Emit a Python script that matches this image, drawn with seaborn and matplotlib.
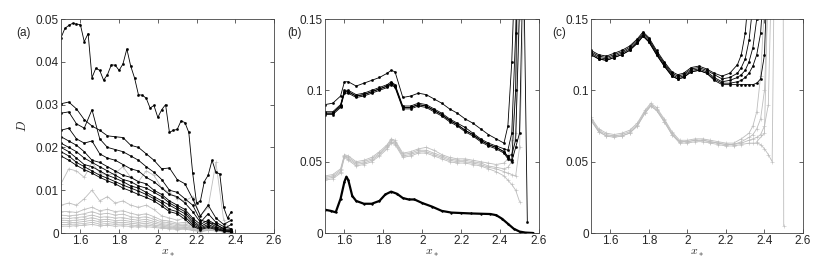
import numpy as np
import pandas as pd
import matplotlib
matplotlib.use("Agg")
import matplotlib.pyplot as plt
import seaborn as sns

sns.set_style("ticks")
plt.rcParams["font.family"] = ["Liberation Sans", "DejaVu Sans"]
plt.rcParams["mathtext.fontset"] = "cm"

BLACK = "#000000"
GRAY = "#bdbdbd"

# ---------------- panel (a) : D vs x*, values in units of 1e-3 ----------------
XA_TOP = [1.50, 1.52, 1.54, 1.56, 1.58, 1.60, 1.62, 1.64, 1.66, 1.68,
          1.70, 1.72, 1.74, 1.76, 1.78, 1.80, 1.82, 1.84, 1.86, 1.88,
          1.90, 1.92, 1.94, 1.96, 1.98, 2.00, 2.02, 2.04, 2.06, 2.08,
          2.10, 2.12, 2.14, 2.16, 2.18, 2.20, 2.22, 2.24, 2.26, 2.28,
          2.30, 2.32, 2.34, 2.36, 2.38]
A_TOP = [45.6, 47.8, 48.5, 49.0, 48.8, 48.7, 44.7, 46.6, 36.3, 38.5,
         38.0, 35.7, 37.0, 39.3, 39.2, 38.0, 39.5, 43.0, 39.0, 36.2,
         32.3, 32.2, 31.5, 29.2, 29.8, 27.0, 28.8, 30.0, 23.5, 24.0,
         24.2, 26.2, 25.8, 23.5, 14.0, 7.0, 7.5, 12.0, 13.5, 17.0,
         14.2, 13.8, 6.0, 3.5, 5.0]

XA = [1.50, 1.54, 1.58, 1.62, 1.66, 1.70, 1.74, 1.78, 1.82, 1.86, 1.90, 1.94,
      1.98, 2.02, 2.06, 2.10, 2.14, 2.18, 2.22, 2.26, 2.30, 2.34, 2.38]
A_BLACK = [
    [30.2, 30.6, 29.0, 26.5, 25.0, 24.0, 22.7, 22.5, 22.3, 20.5, 20.0, 18.5, 17.0, 15.0, 15.2, 12.5, 11.5, 8.0, 4.0, 6.5, 3.5, 2.0, 3.0],
    [28.0, 28.3, 25.5, 24.5, 28.8, 22.0, 20.0, 19.5, 19.0, 18.0, 17.0, 15.5, 14.2, 12.5, 10.0, 9.5, 8.0, 6.5, 3.0, 2.5, 2.0, 1.0, 2.0],
    [24.0, 24.5, 22.0, 21.0, 21.5, 18.5, 17.5, 17.0, 16.0, 15.0, 14.5, 13.0, 12.0, 10.5, 9.0, 8.5, 7.0, 5.0, 2.5, 4.5, 2.5, 1.5, 1.0],
    [22.5, 21.5, 20.5, 19.0, 17.0, 16.5, 15.5, 14.5, 13.5, 13.0, 12.0, 11.5, 10.0, 9.0, 7.5, 6.5, 5.5, 3.5, 2.0, 3.0, 2.0, 1.0, 0.8],
    [21.0, 20.0, 19.0, 17.5, 16.5, 15.5, 14.5, 13.5, 12.5, 12.0, 11.0, 10.5, 9.5, 8.5, 7.0, 6.0, 5.0, 3.0, 1.5, 2.5, 1.5, 0.8, 0.5],
    [20.0, 19.0, 17.5, 16.0, 15.5, 14.5, 13.5, 12.8, 12.0, 11.0, 10.5, 9.5, 8.5, 7.5, 6.5, 5.5, 4.5, 2.5, 1.2, 2.0, 1.2, 0.6, 0.4],
    [19.0, 18.0, 16.5, 15.5, 14.5, 13.5, 12.8, 12.0, 11.2, 10.5, 9.8, 9.0, 8.0, 7.0, 5.5, 5.0, 3.8, 2.0, 1.0, 1.6, 1.0, 0.5, 0.3],
    [18.0, 17.0, 15.8, 14.8, 14.0, 13.0, 12.2, 11.5, 10.5, 9.8, 9.0, 8.3, 7.5, 6.3, 5.0, 4.5, 3.2, 1.6, 0.8, 1.3, 0.8, 0.4, 0.2],
]
A_GRAY = [
    [11.5, 15.0, 14.5, 13.0, 16.5, 14.0, 13.5, 14.0, 15.5, 13.0, 12.0, 14.5, 13.5, 10.5, 9.5, 8.0, 7.5, 8.5, 4.0, 6.0, 16.5, 3.0, 0.5],
    [6.5, 7.0, 6.5, 8.0, 10.0, 7.5, 8.5, 7.0, 7.5, 6.5, 6.0, 6.5, 5.5, 4.0, 3.5, 3.0, 3.5, 2.5, 1.5, 2.5, 2.0, 1.0, 0.5],
    [5.0, 5.0, 4.8, 5.5, 6.0, 5.2, 5.5, 5.0, 5.2, 4.6, 4.2, 4.5, 3.8, 3.0, 2.8, 2.3, 2.5, 1.8, 1.0, 1.8, 1.5, 0.8, 0.4],
    [4.2, 4.0, 4.2, 4.5, 5.0, 4.4, 4.6, 4.2, 4.4, 3.8, 3.6, 3.8, 3.2, 2.6, 2.4, 2.0, 2.1, 1.5, 0.9, 1.5, 1.2, 0.6, 0.3],
    [3.5, 3.4, 3.6, 3.8, 4.2, 3.7, 3.8, 3.5, 3.6, 3.2, 3.0, 3.2, 2.7, 2.2, 2.0, 1.7, 1.8, 1.3, 0.8, 1.3, 1.0, 0.5, 0.3],
    [3.0, 2.9, 3.0, 3.2, 3.6, 3.1, 3.2, 2.9, 3.0, 2.7, 2.5, 2.7, 2.3, 1.9, 1.7, 1.4, 1.5, 1.1, 0.6, 1.1, 0.9, 0.4, 0.2],
    [2.5, 2.4, 2.5, 2.7, 3.0, 2.6, 2.7, 2.4, 2.5, 2.3, 2.1, 2.3, 1.9, 1.6, 1.4, 1.2, 1.3, 0.9, 0.5, 0.9, 0.7, 0.3, 0.2],
    [2.0, 2.0, 2.1, 2.2, 2.5, 2.1, 2.2, 2.0, 2.1, 1.9, 1.7, 1.9, 1.6, 1.3, 1.2, 1.0, 1.1, 0.7, 0.4, 0.7, 0.6, 0.3, 0.1],
    [1.6, 1.6, 1.7, 1.8, 2.0, 1.7, 1.8, 1.6, 1.7, 1.5, 1.4, 1.5, 1.3, 1.1, 1.0, 0.8, 0.9, 0.6, 0.3, 0.6, 0.5, 0.2, 0.1],
]

# ---------------- panel (b) ----------------
XB = [1.50, 1.54, 1.58, 1.60, 1.62, 1.66, 1.70, 1.74, 1.78, 1.82,
      1.84, 1.86, 1.90, 1.94, 1.98, 2.02, 2.06, 2.10, 2.14, 2.18,
      2.22, 2.26, 2.30, 2.34, 2.38, 2.42, 2.44, 2.46, 2.48, 2.50,
      2.52, 2.54]
B_BLACK = [
    [0.090, 0.091, 0.096, 0.106, 0.106, 0.103, 0.105, 0.107, 0.109, 0.112, 0.114, 0.113, 0.095, 0.096, 0.098, 0.097, 0.094, 0.091, 0.087, 0.084, 0.080, 0.077, 0.073, 0.069, 0.066, 0.063, 0.075, 0.120, 0.200, 0.300, 0.300, 0.300],
    [0.085, 0.085, 0.090, 0.100, 0.100, 0.097, 0.098, 0.100, 0.102, 0.104, 0.106, 0.104, 0.089, 0.089, 0.091, 0.090, 0.087, 0.084, 0.080, 0.077, 0.074, 0.070, 0.066, 0.063, 0.061, 0.059, 0.058, 0.070, 0.140, 0.250, 0.300, 0.300],
    [0.084, 0.084, 0.089, 0.099, 0.099, 0.096, 0.097, 0.099, 0.101, 0.103, 0.105, 0.103, 0.088, 0.088, 0.090, 0.089, 0.086, 0.083, 0.079, 0.076, 0.072, 0.069, 0.065, 0.062, 0.060, 0.057, 0.054, 0.055, 0.065, 0.160, 0.300, 0.300],
    [0.083, 0.083, 0.088, 0.098, 0.098, 0.095, 0.096, 0.098, 0.100, 0.102, 0.104, 0.102, 0.087, 0.087, 0.089, 0.088, 0.085, 0.082, 0.078, 0.075, 0.071, 0.068, 0.064, 0.061, 0.059, 0.056, 0.052, 0.050, 0.060, 0.070, 0.200, 0.008],
    [0.084, 0.084, 0.089, 0.099, 0.099, 0.096, 0.097, 0.099, 0.101, 0.103, 0.105, 0.103, 0.088, 0.088, 0.090, 0.089, 0.086, 0.083, 0.079, 0.076, 0.072, 0.069, 0.065, 0.062, 0.060, 0.057, 0.053, 0.051, 0.100, 0.300, 0.300, 0.300],
]
B_GRAY = [
    [0.040, 0.041, 0.045, 0.055, 0.054, 0.050, 0.051, 0.053, 0.057, 0.062, 0.066, 0.065, 0.056, 0.057, 0.059, 0.060, 0.058, 0.055, 0.053, 0.052, 0.052, 0.051, 0.050, 0.049, 0.048, 0.049, 0.052, 0.065, 0.100, 0.200, 0.300, 0.300],
    [0.039, 0.040, 0.044, 0.054, 0.053, 0.049, 0.050, 0.052, 0.056, 0.061, 0.065, 0.064, 0.055, 0.056, 0.058, 0.058, 0.056, 0.054, 0.052, 0.051, 0.051, 0.050, 0.049, 0.047, 0.046, 0.045, 0.046, 0.050, 0.070, 0.150, 0.300, 0.300],
    [0.038, 0.039, 0.043, 0.054, 0.052, 0.048, 0.049, 0.051, 0.055, 0.060, 0.064, 0.063, 0.054, 0.055, 0.057, 0.057, 0.055, 0.053, 0.051, 0.050, 0.050, 0.049, 0.048, 0.046, 0.045, 0.043, 0.042, 0.041, 0.040, 0.060, 0.150, 0.300],
    [0.037, 0.038, 0.042, 0.053, 0.051, 0.047, 0.048, 0.050, 0.054, 0.059, 0.063, 0.062, 0.053, 0.054, 0.056, 0.056, 0.054, 0.052, 0.050, 0.049, 0.049, 0.048, 0.047, 0.045, 0.043, 0.040, 0.037, 0.034, 0.030, 0.022],
]
XB_LOW = [1.50, 1.53, 1.555, 1.58, 1.60, 1.61, 1.62, 1.64, 1.66, 1.70,
          1.74, 1.78, 1.81, 1.84, 1.87, 1.90, 1.93, 1.96, 2.00, 2.05,
          2.10, 2.15, 2.20, 2.25, 2.30, 2.35, 2.38, 2.41, 2.44, 2.47,
          2.50, 2.53, 2.57]
B_LOW = [0.0163, 0.0155, 0.0145, 0.024, 0.036, 0.0395, 0.037, 0.026, 0.0225, 0.0205,
         0.0205, 0.0225, 0.027, 0.029, 0.0275, 0.0245, 0.0235, 0.0235, 0.021, 0.0185,
         0.0155, 0.0143, 0.014, 0.0137, 0.0135, 0.0133, 0.0125, 0.010, 0.0065, 0.003,
         0.001, 0.0003, 0.0]

# ---------------- panel (c) ----------------
XC = [1.50, 1.54, 1.58, 1.62, 1.66, 1.70, 1.74, 1.77, 1.80, 1.84,
      1.88, 1.92, 1.95, 1.98, 2.02, 2.06, 2.10, 2.14, 2.18, 2.22,
      2.26, 2.28, 2.30, 2.32, 2.34, 2.36, 2.38, 2.40, 2.42]
C_BLACK = [
    [0.128, 0.125, 0.124, 0.126, 0.128, 0.131, 0.136, 0.141, 0.137, 0.128, 0.120, 0.113, 0.111, 0.112, 0.116, 0.117, 0.115, 0.112, 0.110, 0.112, 0.118, 0.125, 0.140, 0.170, 0.250, 0.300, 0.300, 0.300, 0.300],
    [0.127, 0.124, 0.123, 0.125, 0.127, 0.130, 0.135, 0.140, 0.136, 0.127, 0.119, 0.112, 0.110, 0.111, 0.115, 0.116, 0.114, 0.111, 0.108, 0.109, 0.112, 0.116, 0.122, 0.135, 0.160, 0.250, 0.300, 0.300, 0.300],
    [0.126, 0.123, 0.122, 0.124, 0.126, 0.129, 0.134, 0.139, 0.135, 0.126, 0.118, 0.111, 0.109, 0.110, 0.114, 0.115, 0.113, 0.109, 0.106, 0.107, 0.109, 0.111, 0.114, 0.120, 0.130, 0.150, 0.200, 0.300, 0.300],
    [0.125, 0.122, 0.121, 0.123, 0.125, 0.128, 0.133, 0.138, 0.134, 0.125, 0.117, 0.110, 0.108, 0.109, 0.113, 0.114, 0.112, 0.108, 0.105, 0.105, 0.106, 0.107, 0.109, 0.112, 0.117, 0.125, 0.140, 0.180, 0.300],
    [0.125, 0.122, 0.121, 0.123, 0.125, 0.128, 0.133, 0.138, 0.134, 0.125, 0.117, 0.110, 0.108, 0.109, 0.113, 0.114, 0.112, 0.107, 0.104, 0.104, 0.104, 0.104, 0.104, 0.104, 0.104, 0.105, 0.108, 0.125, 0.200],
]
XC_G = [1.50, 1.54, 1.58, 1.62, 1.66, 1.70, 1.74, 1.78, 1.81, 1.84,
        1.88, 1.92, 1.96, 2.00, 2.04, 2.08, 2.12, 2.16, 2.20, 2.24,
        2.28, 2.32, 2.34, 2.36, 2.38, 2.40, 2.42, 2.44, 2.46]
C_GRAY = [
    [0.081, 0.073, 0.070, 0.069, 0.070, 0.072, 0.077, 0.086, 0.091, 0.088, 0.080, 0.071, 0.065, 0.065, 0.066, 0.066, 0.065, 0.064, 0.063, 0.063, 0.066, 0.070, 0.075, 0.085, 0.110, 0.160, 0.300, 0.300, 0.300],
    [0.080, 0.072, 0.069, 0.068, 0.069, 0.071, 0.076, 0.085, 0.090, 0.087, 0.079, 0.070, 0.064, 0.064, 0.065, 0.065, 0.064, 0.063, 0.062, 0.062, 0.064, 0.067, 0.069, 0.073, 0.080, 0.100, 0.170, 0.300, 0.300],
    [0.079, 0.071, 0.068, 0.068, 0.068, 0.070, 0.075, 0.084, 0.089, 0.086, 0.078, 0.069, 0.064, 0.064, 0.065, 0.065, 0.064, 0.063, 0.062, 0.062, 0.063, 0.065, 0.066, 0.067, 0.069, 0.075, 0.090, 0.200, 0.300],
    [0.079, 0.071, 0.068, 0.067, 0.068, 0.070, 0.075, 0.084, 0.089, 0.086, 0.078, 0.069, 0.063, 0.063, 0.064, 0.064, 0.063, 0.062, 0.061, 0.061, 0.062, 0.063, 0.063, 0.063, 0.062, 0.059, 0.055, 0.050, 0.300],
]
XC_DROP = [2.36, 2.40, 2.44, 2.495, 2.50]
C_DROP = [0.064, 0.070, 0.300, 0.300, 0.005]

XTICKS = [1.6, 1.8, 2.0, 2.2, 2.4, 2.6]
XTICK_LABELS = ["1.6", "1.8", "2", "2.2", "2.4", "2.6"]
YTICKS_A = [0, 0.01, 0.02, 0.03, 0.04, 0.05]
YTICK_LABELS_A = ["0", "0.01", "0.02", "0.03", "0.04", "0.05"]
YTICKS_BC = [0, 0.05, 0.1, 0.15]
YTICK_LABELS_BC = ["0", "0.05", "0.1", "0.15"]

FS = 8.5


def draw(ax, series, color, lw=0.6, ms=3.0, marker="."):
    rows = []
    for k, (xs, ys) in enumerate(series):
        for x, y in zip(xs, ys):
            rows.append((x, y, k))
    df = pd.DataFrame(rows, columns=["x", "y", "curve"])
    sns.lineplot(data=df, x="x", y="y", units="curve", estimator=None, sort=False,
                 color=color, lw=lw, marker=marker, markersize=ms,
                 markeredgewidth=0.4, markeredgecolor=color, ax=ax, legend=False)


def style(ax, yticks, ylabels, ylim):
    ax.set_xlim(1.5, 2.6)
    ax.set_ylim(*ylim)
    ax.set_xticks(XTICKS)
    ax.set_xticklabels(XTICK_LABELS)
    ax.set_yticks(yticks)
    ax.set_yticklabels(ylabels)
    for sp in ax.spines.values():
        sp.set_visible(True)
        sp.set_linewidth(0.6)
        sp.set_color("#444444")
    ax.tick_params(direction="in", top=True, right=True, length=3, width=0.5,
                   labelsize=FS, pad=1.5)
    ax.set_xlabel("$x_*$", fontsize=8.5, labelpad=0)
    ax.set_ylabel("")


W, H = 830, 263
fig = plt.figure(figsize=(W / 100, H / 100), dpi=100)
ax_a = fig.add_axes([61 / W, 30 / H, 213 / W, 214 / H])
ax_b = fig.add_axes([325 / W, 30 / H, 214 / W, 214 / H])
ax_c = fig.add_axes([591 / W, 30 / H, 212 / W, 214 / H])

# (a)
draw(ax_a, [(XA, [v / 1000 for v in c]) for c in A_GRAY], GRAY, ms=2.5, marker="+")
draw(ax_a, [(XA, [v / 1000 for v in c]) for c in A_BLACK], BLACK)
draw(ax_a, [(XA_TOP, [v / 1000 for v in A_TOP])], BLACK)
style(ax_a, YTICKS_A, YTICK_LABELS_A, (0, 0.05))
ax_a.set_ylabel("$D$", fontsize=9, labelpad=5)

# (b)
draw(ax_b, [(XB, c) for c in B_GRAY], GRAY, ms=2.5, marker="+")
draw(ax_b, [(XB, c) for c in B_BLACK], BLACK)
draw(ax_b, [(XB_LOW, B_LOW)], BLACK, lw=1.6, ms=2.5)
style(ax_b, YTICKS_BC, YTICK_LABELS_BC, (0, 0.15))

# (c)
draw(ax_c, [(XC_G, c) for c in C_GRAY] + [(XC_DROP, C_DROP)], GRAY, ms=2.5, marker="+")
draw(ax_c, [(XC, c) for c in C_BLACK], BLACK)
style(ax_c, YTICKS_BC, YTICK_LABELS_BC, (0, 0.15))

fig.text(16 / W, 1 - 33 / H, "(a)", fontsize=FS, va="center")
fig.text(287 / W, 1 - 33 / H, "(b)", fontsize=FS, va="center")
fig.text(552 / W, 1 - 33 / H, "(c)", fontsize=FS, va="center")

fig.savefig("out.png", dpi=100)
